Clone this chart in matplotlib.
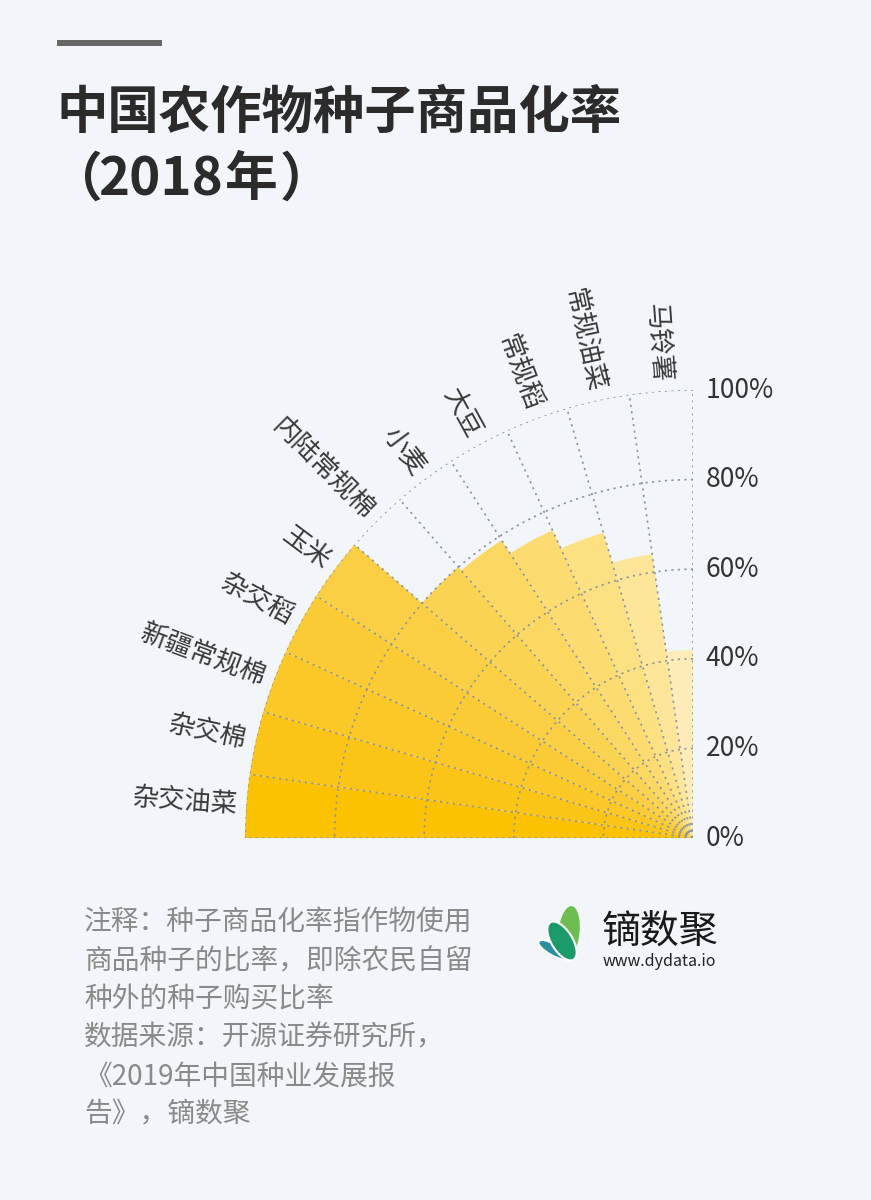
import numpy as np
import matplotlib
matplotlib.use('Agg')
import matplotlib.pyplot as plt
from matplotlib.patches import Rectangle, Ellipse

plt.rcParams['font.family'] = ['Noto Sans CJK SC', 'DejaVu Sans']

# data (seed commercialization rate, %)
crops = ['杂交油菜', '杂交棉', '新疆常规棉', '杂交稻', '玉米', '内陆常规棉',
         '小麦', '大豆', '常规稻', '常规油菜', '马铃薯']
rates = [100, 100, 100, 100, 100, 80, 79, 75.5, 71, 64, 42]
r_ticks = [0, 20, 40, 60, 80, 100]
bar_colors = ['#FAC200', '#FAC516', '#FAC827', '#FACB35', '#FACF43', '#FAD352',
              '#FBD861', '#FCDC71', '#FCE182', '#FDE699', '#FEEDB8']

BG = '#F2F5F9'
W, H = 871, 1200
fig = plt.figure(figsize=(W / 100, H / 100), dpi=100, facecolor=BG)


def fx(x):
    return x / W


def fy(y):
    return 1 - y / H


# top decoration + title
fig.patches.append(Rectangle((fx(57), fy(46)), fx(105), 6 / H, transform=fig.transFigure,
                             color='#666666', lw=0))
fig.text(fx(56), fy(112), '中国农作物种子商品化率', fontsize=37, fontweight='bold',
         color='#2b2b2b', va='center', ha='left')
title2 = [('（', 50), ('2018', 98), ('年', 224), ('）', 280)]
for s, x in title2:
    fig.text(fx(x), fy(180), s, fontsize=38, fontweight='bold',
             color='#2b2b2b', va='center', ha='left')

# polar quarter chart
ax = fig.add_axes([fx(245), fy(838), 448 / W, 448 / H], projection='polar')
ax.set_facecolor('none')
ax.set_thetamin(90)
ax.set_thetamax(180)
ax.set_ylim(0, 100)

n = len(crops)
step = (np.pi / 2) / n
theta = np.pi - step * (np.arange(n) + 0.5)
ax.bar(theta, rates, width=step, color=bar_colors, linewidth=0, zorder=1)

ax.set_thetagrids(np.degrees(np.pi / 2 + step * np.arange(n + 1)), labels=[''] * (n + 1))
ax.set_rgrids(r_ticks[1:], labels=[''] * (len(r_ticks) - 1))
ax.tick_params(axis='both', length=0, width=0)
ax.grid(True, color='#8e949c', linestyle=(0, (1.3, 2.6)), linewidth=1.2)
ax.set_axisbelow(False)
# polar axes turn start/end spines back on when drawing, so make them invisible by width
for s in ax.spines.values():
    s.set_linewidth(0)
    s.set_edgecolor('none')

for r in r_ticks:
    ax.annotate(f'{r}%', xy=(np.pi / 2, r), xytext=(9, 0), textcoords='offset points',
                ha='left', va='center', fontsize=19, color='#333333', annotation_clip=False)

for t, name in zip(theta, crops):
    ax.text(t, 102, name, rotation=np.degrees(t) - 180, rotation_mode='anchor',
            ha='right', va='center', fontsize=19, color='#3a3a3a', clip_on=False)

# footer notes
notes = ['注释：种子商品化率指作物使用',
         '商品种子的比率，即除农民自留',
         '种外的种子购买比率',
         '数据来源：开源证券研究所，',
         '《2019年中国种业发展报',
         '告》，镝数聚']
for i, line in enumerate(notes):
    fig.text(fx(84), fy(923 + i * 38.3), line, fontsize=20, color='#8a8a8a',
             va='center', ha='left')

# logo
lax = fig.add_axes([fx(535), fy(968), 65 / W, 68 / H])
lax.set_xlim(535, 600)
lax.set_ylim(968, 900)
lax.axis('off')
lax.add_patch(Ellipse((569, 932), 52, 21, angle=96, color='#6DBE50', lw=0))
lax.add_patch(Ellipse((554, 950), 35, 11, angle=29, facecolor='#2A8E9E',
                      edgecolor='white', lw=1.2))
lax.add_patch(Ellipse((562, 941), 44, 21, angle=58, facecolor='#1B9A6A',
                      edgecolor='white', lw=1.5))

fig.text(fx(602), fy(933), '镝数聚', fontsize=28, color='#1a1a1a', va='center', ha='left')
fig.text(fx(603), fy(962), 'www.dydata.io', fontsize=11.5, color='#222222',
         va='center', ha='left')

fig.savefig('out.png', dpi=100, facecolor=BG)
